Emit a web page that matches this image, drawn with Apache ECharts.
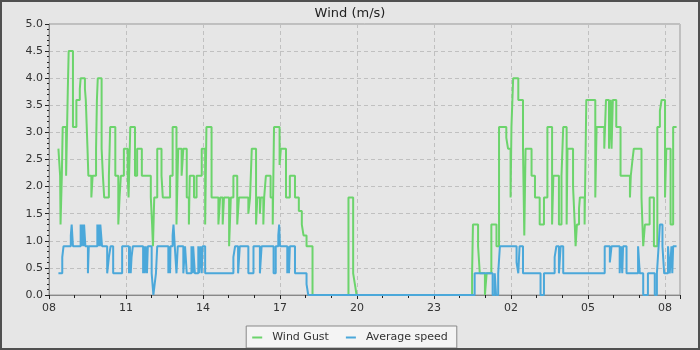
<!DOCTYPE html>
<html>
<head>
<meta charset="utf-8">
<script src="https://cdn.jsdelivr.net/npm/echarts@6/dist/echarts.min.js"></script>
<style>
  html, body { margin: 0; padding: 0; background: #e6e6e6; }
  #chart { width: 700px; height: 350px; box-sizing: border-box; border: 2px solid #505050; background: #e6e6e6; }
</style>
</head>
<body>
<div id="chart"></div>
<script>
// minutes after 08:00, value (m/s) - each pair is where the reading changes
const gustSteps = [
  [22, 2.7], [26, 2.2], [27, 1.3], [30, 2.2], [32, 3.1], [40, 2.2], [44, 3.8], [46, 4.5], [56, 3.1], [64, 3.6],
  [72, 3.8], [74, 4.0], [84, 3.8], [86, 3.6], [90, 2.7], [92, 2.2], [99, 1.8], [102, 2.2], [110, 2.7], [112, 3.6],
  [114, 4.0], [123, 2.7], [126, 2.2], [129, 1.8], [140, 2.2], [143, 3.1], [155, 2.2], [162, 1.3], [165, 1.8], [168, 2.2],
  [175, 2.7], [184, 2.2], [186, 1.8], [190, 3.1], [201, 2.2], [206, 2.7], [217, 2.2], [238, 1.8], [241, 1.3], [243, 0.9],
  [246, 1.8], [253, 2.7], [263, 2.2], [266, 1.8], [283, 2.2], [289, 3.1], [298, 1.3], [302, 2.7], [310, 2.2], [314, 2.7],
  [322, 1.8], [327, 1.3], [329, 2.2], [339, 1.8], [345, 2.2], [357, 2.7], [365, 1.3], [368, 3.1], [380, 1.8], [396, 1.3],
  [400, 1.8], [406, 1.3], [409, 1.8], [421, 0.9], [425, 1.8], [431, 2.2], [440, 1.3], [444, 1.8], [466, 1.5], [470, 1.8],
  [474, 2.7], [484, 1.3], [487, 1.8], [493, 1.5], [495, 1.8], [501, 1.3], [503, 1.8], [507, 2.2], [518, 1.8], [523, 1.3],
  [526, 3.1], [539, 2.4], [542, 2.7], [554, 1.8], [563, 2.2], [575, 1.8], [584, 1.55], [591, 1.3], [595, 1.1], [602, 0.9],
  [616, 0], [700, 1.8], [711, 0.4], [715, 0.2], [719, 0],
  [989, 0.4], [991, 1.3], [1003, 0.9], [1007, 0.4], [1019, 0], [1023, 0.4], [1034, 1.3], [1046, 0.9], [1052, 3.1], [1069, 2.9],
  [1073, 2.7], [1079, 1.8], [1081, 3.1], [1085, 4.0], [1097, 3.6], [1108, 2.7], [1111, 1.1], [1114, 2.7], [1128, 2.2], [1136, 1.8],
  [1147, 1.3], [1157, 1.8], [1165, 3.1], [1176, 1.3], [1179, 2.2], [1192, 1.3], [1198, 2.2], [1202, 3.1], [1210, 1.3], [1212, 2.7],
  [1225, 2.0], [1229, 1.3], [1231, 0.9], [1234, 1.3], [1239, 1.6], [1241, 1.8], [1252, 1.3], [1256, 3.6], [1277, 1.8], [1280, 3.1],
  [1298, 2.7], [1302, 3.6], [1309, 2.7], [1313, 3.6], [1315, 2.7], [1318, 3.6], [1326, 3.1], [1336, 2.2], [1358, 1.8], [1360, 2.2],
  [1364, 2.5], [1367, 2.7], [1385, 1.8], [1389, 0.9], [1393, 1.3], [1404, 1.8], [1414, 0.9], [1422, 3.1], [1428, 3.4], [1432, 3.6],
  [1440, 1.8], [1443, 2.7], [1453, 1.3], [1459, 3.1], [1467, 3.1]
];

const avgSteps = [
  [22, 0.4], [31, 0.7], [34, 0.9], [51, 1.1], [53, 1.3], [56, 0.9], [74, 1.3], [76, 0.9], [78, 1.3], [81, 0.9],
  [82, 1.3], [85, 0.9], [91, 0.4], [93, 0.9], [113, 1.3], [115, 0.9], [116, 1.3], [119, 0.9], [120, 1.3], [124, 0.9],
  [136, 0.4], [140, 0.7], [144, 0.9], [150, 0.4], [171, 0.9], [187, 0.4], [189, 0.9], [191, 0.4], [193, 0.7], [196, 0.9],
  [220, 0.4], [222, 0.9], [224, 0.4], [226, 0.9], [229, 0.4], [231, 0.9], [240, 0.4], [244, 0], [247, 0.2], [250, 0.4],
  [253, 0.9], [279, 0.4], [281, 0.9], [283, 0.4], [284, 0.9], [289, 1.1], [291, 1.3], [294, 0.9], [298, 0.4], [301, 0.9],
  [314, 0.4], [318, 0.9], [322, 0.4], [333, 0.9], [336, 0.4], [337, 0.9], [341, 0.4], [349, 0.9], [351, 0.4], [354, 0.9],
  [357, 0.4], [359, 0.9], [365, 0.4], [431, 0.7], [435, 0.9], [442, 0.4], [446, 0.9], [466, 0.4], [478, 0.9], [493, 0.4],
  [497, 0.9], [525, 0.4], [530, 0.9], [536, 1.1], [538, 1.3], [540, 0.9], [557, 0.4], [560, 0.9], [561, 0.4], [563, 0.9],
  [575, 0.4], [602, 0.2], [606, 0],
  [995, 0.4], [1037, 0], [1042, 0.4], [1045, 0], [1050, 0.4], [1054, 0.9], [1093, 0.6], [1097, 0.4], [1100, 0.9], [1108, 0.4],
  [1149, 0], [1157, 0.4], [1182, 0.7], [1186, 0.9], [1192, 0.4], [1196, 0.9], [1202, 0.4], [1299, 0.9], [1311, 0.6], [1315, 0.9],
  [1334, 0.4], [1337, 0.9], [1340, 0.4], [1342, 0.9], [1350, 0.4], [1377, 0.9], [1381, 0.4], [1389, 0], [1400, 0.4], [1416, 0],
  [1421, 0.4], [1425, 0.9], [1428, 1.3], [1434, 0.9], [1438, 0.4], [1447, 0.9], [1451, 0.4], [1455, 0.9], [1457, 0.4], [1459, 0.9],
  [1467, 0.9]
];

const seriesNames = ['Wind Gust', 'Average speed'];
const startHour = 8;
const xMaxMinutes = 1475;

const chart = echarts.init(document.getElementById('chart'));

const textFont = { fontFamily: 'DejaVu Sans', fontSize: 11, color: '#333' };

const option = {
  animation: false,
  backgroundColor: '#e6e6e6',
  color: ['#6cd46c', '#4ba8da'],
  title: {
    text: 'Wind (m/s)',
    left: 'center',
    top: 0,
    textStyle: { fontFamily: 'DejaVu Sans', fontSize: 13, fontWeight: 'normal', color: '#222' }
  },
  legend: {
    data: seriesNames,
    left: 'center',
    bottom: 0,
    icon: 'rect',
    itemWidth: 10,
    itemHeight: 2,
    itemGap: 17,
    padding: [6, 9, 5, 6],
    backgroundColor: '#f4f4f4',
    borderColor: '#888',
    borderWidth: 1,
    textStyle: Object.assign({}, textFont, { padding: [0, 0, 0, 5] })
  },
  grid: {
    left: 47,
    top: 22,
    right: 18,
    bottom: 53,
    show: true,
    borderColor: '#999',
    borderWidth: 1
  },
  xAxis: {
    type: 'value',
    min: 0,
    max: xMaxMinutes,
    interval: 180,
    axisLine: { lineStyle: { color: '#888' } },
    axisTick: { length: 4, lineStyle: { color: '#222' } },
    minorTick: { show: true, splitNumber: 3, length: 3, lineStyle: { color: '#222' } },
    axisLabel: Object.assign({}, textFont, {
      margin: 8,
      showMaxLabel: false,
      formatter: function (m) {
        const h = (startHour + Math.round(m / 60)) % 24;
        return (h < 10 ? '0' : '') + h;
      }
    }),
    splitLine: { show: true, lineStyle: { color: '#c0c0c0', type: [4, 3] } }
  },
  yAxis: {
    type: 'value',
    min: 0,
    max: 5,
    interval: 0.5,
    axisLine: { show: true, lineStyle: { color: '#888' } },
    axisTick: { show: true, length: 4, lineStyle: { color: '#222' } },
    minorTick: { show: true, splitNumber: 5, length: 2, lineStyle: { color: '#222' } },
    axisLabel: Object.assign({}, textFont, {
      margin: 6,
      formatter: function (v) { return v.toFixed(1); }
    }),
    splitLine: { show: true, lineStyle: { color: '#c0c0c0', type: [4, 3] } }
  },
  series: [
    {
      name: seriesNames[0],
      type: 'line',
      step: 'end',
      showSymbol: false,
      lineStyle: { width: 2 },
      data: gustSteps
    },
    {
      name: seriesNames[1],
      type: 'line',
      step: 'end',
      showSymbol: false,
      lineStyle: { width: 2 },
      data: avgSteps
    }
  ]
};

chart.setOption(option);

window.addEventListener('resize', () => {
  chart.resize();
});
</script>
</body>
</html>
